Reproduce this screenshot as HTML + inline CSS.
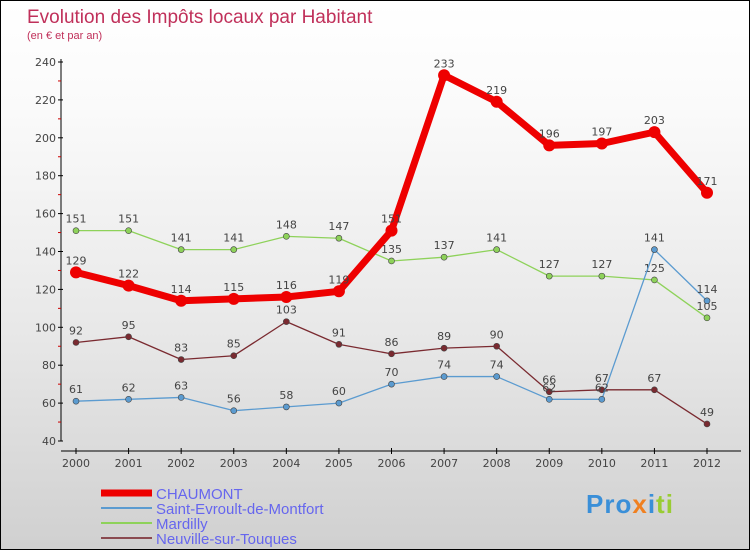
<!DOCTYPE html>
<html><head><meta charset="utf-8"><style>
body{margin:0}
#c{width:748px;height:548px;border:1px solid #000;background:linear-gradient(#fff,#fafafa 20%,#e8e8e8 60%,#d0d0d0);position:relative;overflow:hidden;font-family:"DejaVu Sans","Liberation Sans",sans-serif}
</style></head><body>
<div id="c">
<svg id="s" width="748" height="548">
<text x="26" y="22" font-size="19" fill="#c0305a" font-family="Liberation Sans,sans-serif">Evolution des Impôts locaux par Habitant</text>
<text x="26" y="38" font-size="11" fill="#c0305a" font-family="Liberation Sans,sans-serif">(en € et par an)</text>
<g id="g"></g>
</svg>
<div style="position:absolute;left:585px;top:488px;font-size:26px;font-weight:bold;font-family:'Liberation Sans',sans-serif;letter-spacing:1px"><span style="color:#3a8fd8">Pro</span><span style="color:#f08020">x</span><span style="color:#3a8fd8">i</span><span style="color:#9c3">ti</span></div>
</div>
<script>
const years=[2000,2001,2002,2003,2004,2005,2006,2007,2008,2009,2010,2011,2012];
const yTicks=[40,60,80,100,120,140,160,180,200,220,240];
const chaumont=[129,122,114,115,116,119,151,233,219,196,197,203,171];
const stEvroult=[61,62,63,56,58,60,70,74,74,62,62,141,114];
const mardilly=[151,151,141,141,148,147,135,137,141,127,127,125,105];
const neuville=[92,95,83,85,103,91,86,89,90,66,67,67,49];
const NS="http://www.w3.org/2000/svg";
const g=document.getElementById('g');
const X=i=>75+i*(706-75)/(years.length-1);
const Y=v=>440-(v-40)*(440-61)/200;
function el(t,a,p){const e=document.createElementNS(NS,t);for(const k in a)e.setAttribute(k,a[k]);(p||g).appendChild(e);return e;}
// axes
let ax=el('line',{x1:60,y1:58,x2:60,y2:440,stroke:'#000'});


let xa=el('line',{x1:60,y1:450,x2:740,y2:450,stroke:'#000'});


yTicks.forEach(v=>{
 el('line',{x1:57,x2:62,y1:Y(v),y2:Y(v),stroke:'#000'});
 if(v<240)el('line',{x1:57,x2:60,y1:Y(v+10),y2:Y(v+10),stroke:'#c00'});
 const t=el('text',{x:55,y:Y(v)+4,'text-anchor':'end','font-size':11,fill:'#444'});t.textContent=v;
 
 
});
years.forEach((y,i)=>{
 el('line',{x1:X(i),x2:X(i),y1:447,y2:453,stroke:'#000'});
 const t=el('text',{x:X(i),y:466,'text-anchor':'middle','font-size':11,fill:'#444'});t.textContent=y;
 
 
});
const series=[
 {d:mardilly,c:'#8ed25a',w:1.3,r:3,n:'mardilly'},
 {d:neuville,c:'#7a2a30',w:1.3,r:3,n:'neuville'},
 {d:stEvroult,c:'#5b9bd0',w:1.3,r:3,n:'saint-evroult'},
 {d:chaumont,c:'#e00',w:7,r:6,n:'chaumont'}];
series.forEach(s=>{
 const p=el('polyline',{points:s.d.map((v,i)=>X(i)+','+Y(v)).join(' '),fill:'none',stroke:s.c,'stroke-width':s.w,'stroke-linejoin':'round'});
 
 
 s.d.forEach((v,i)=>{
  const c=el('circle',{cx:X(i),cy:Y(v),r:s.r,fill:s.c,stroke:s.w>2?'none':'#444','stroke-width':0.6});
  
  
  const t=el('text',{x:X(i),y:Y(v)-8,'text-anchor':'middle','font-size':11,fill:'#444'});t.textContent=v;
  
  
 });
});
// legend
const leg=[['CHAUMONT','#e00',7],['Saint-Evroult-de-Montfort','#5b9bd0',2],['Mardilly','#8ed25a',2],['Neuville-sur-Touques','#8a4a50',2]];
leg.forEach((l,i)=>{
 const y=492+i*15;
 const ln=el('line',{x1:100,x2:151,y1:y,y2:y,stroke:l[1],'stroke-width':l[2]});
 
 
 const t=el('text',{x:155,y:y+6,'font-size':15,fill:'#6666ee','font-family':'Liberation Sans,sans-serif'});t.textContent=l[0];
 
 
});
</script>
</body></html>
